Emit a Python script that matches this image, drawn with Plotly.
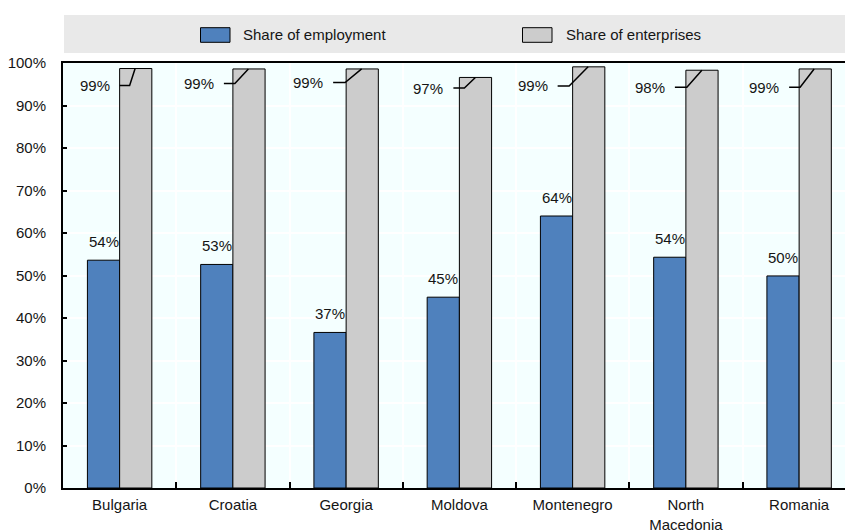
import plotly.graph_objects as go

# --- data -------------------------------------------------------------
countries = ["Bulgaria", "Croatia", "Georgia", "Moldova", "Montenegro",
             "North<br>Macedonia", "Romania"]
share_employment = [53.6, 52.6, 36.6, 44.9, 64.0, 54.3, 49.9]
share_enterprises = [98.7, 98.6, 98.6, 96.6, 99.1, 98.3, 98.6]
y_ticks = [0, 10, 20, 30, 40, 50, 60, 70, 80, 90, 100]
y_tick_labels = [f"{v}%" for v in y_ticks]

# --- styling / layout constants ----------------------------------------
W, H = 845, 532
M_L, M_T, M_B = 63, 63, 44
PLOT_W = W - M_L
PLOT_H = H - M_T - M_B
CAT_PX = 113.25                      # width of one category slot in px
X_RANGE = [-0.5, -0.5 + PLOT_W / CAT_PX]
BLUE = "#4F81BD"
GREY = "#CCCCCC"
FONT = "Arial, Liberation Sans, sans-serif"
FS = 15
TXT = "#151515"

# leader-line geometry for the enterprise labels (px offsets from slot centre)
lead_start = [0, -9, -13, -6, -15, -11, -10]
lead_elbow = [10, 2, -1, 5, -3.5, 1, 1]
lead_end = [15.5, 15.5, 15.5, 16, 15.5, 16, 15]
lead_y = [94.7, 95.2, 95.4, 94.1, 94.6, 94.3, 94.3]
label_gap = 8

def px(v):
    return v / CAT_PX

fig = go.Figure()
fig.add_trace(go.Bar(
    x=countries, y=share_employment, name="Share of employment",
    marker=dict(color=BLUE, line=dict(color="#000000", width=1)),
    showlegend=False,
))
fig.add_trace(go.Bar(
    x=countries, y=share_enterprises, name="Share of enterprises",
    marker=dict(color=GREY, line=dict(color="#000000", width=1)),
    showlegend=False,
))

annotations = []
shapes = []
bar_w = (1 - 0.431) / 2
for i, (emp, ent) in enumerate(zip(share_employment, share_enterprises)):
    # employment value above the blue bar
    annotations.append(dict(
        x=i - bar_w / 2, y=emp, xref="x", yref="y",
        text=f"{emp:.0f}%", showarrow=False, yanchor="bottom",
        yshift=8, font=dict(family=FONT, size=FS, color=TXT),
    ))
    # enterprise value with an elbow leader line to the grey bar
    annotations.append(dict(
        x=i + px(lead_start[i] - label_gap), y=lead_y[i], xref="x", yref="y",
        text=f"{ent:.0f}%", showarrow=False, xanchor="right", yanchor="middle",
        font=dict(family=FONT, size=FS, color=TXT),
    ))
    x0 = i + px(lead_start[i])
    x1 = i + px(lead_elbow[i])
    x2 = i + px(lead_end[i])
    shapes.append(dict(
        type="path", xref="x", yref="y",
        path=f"M {x0},{lead_y[i]} L {x1},{lead_y[i]} L {x2},{ent}",
        line=dict(color="#000000", width=1.5),
    ))

# legend band across the top
def pxx(x):
    return (x - M_L) / PLOT_W

def pxy(y):
    return 1 + (M_T - y) / PLOT_H

shapes.append(dict(type="rect", xref="paper", yref="paper",
                   x0=pxx(64), x1=1.0, y0=pxy(53), y1=pxy(15),
                   fillcolor="#E9E9E9", line=dict(width=0), layer="below"))
legend_items = [("Share of employment", BLUE, 200.5, 241),
                ("Share of enterprises", GREY, 522.5, 564)]
for label, color, sx, tx in legend_items:
    shapes.append(dict(type="rect", xref="paper", yref="paper",
                       x0=pxx(sx), x1=pxx(sx + 29.5), y0=pxy(42.3), y1=pxy(27.7),
                       fillcolor=color, line=dict(color="#000000", width=1)))
    annotations.append(dict(x=pxx(tx), y=pxy(35), xref="paper", yref="paper",
                            text=label, showarrow=False, xanchor="left",
                            yanchor="middle",
                            font=dict(family=FONT, size=FS, color=TXT)))

fig.update_layout(
    width=W, height=H,
    margin=dict(l=M_L, r=0, t=M_T, b=M_B, pad=0),
    paper_bgcolor="#FFFFFF",
    plot_bgcolor="#F4FFFF",
    barmode="group", bargap=0.431, bargroupgap=0,
    font=dict(family=FONT, size=FS, color=TXT),
    annotations=annotations,
    shapes=shapes,
    showlegend=False,
)
fig.update_xaxes(
    type="category", range=X_RANGE, tickson="boundaries",
    ticks="inside", ticklen=6, tickwidth=1.5, tickcolor="#000000",
    showgrid=True, gridcolor="#FFFFFF", gridwidth=1.5,
    showline=True, linecolor="#000000", linewidth=2, mirror=True,
    ticklabelstandoff=2,
    tickfont=dict(family=FONT, size=FS, color=TXT),
)
fig.update_yaxes(
    range=[0, 100], tickmode="array", tickvals=y_ticks, ticktext=y_tick_labels,
    ticks="inside", ticklen=4, tickwidth=1.5, tickcolor="#000000",
    showgrid=True, gridcolor="#FFFFFF", gridwidth=1.5, zeroline=False,
    showline=True, linecolor="#000000", linewidth=2,
    ticklabelstandoff=12,
    tickfont=dict(family=FONT, size=FS, color=TXT),
)

fig.write_html("out.html")
